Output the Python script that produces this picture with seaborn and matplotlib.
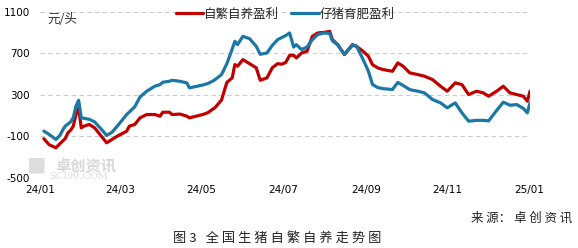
import pandas as pd
import matplotlib
matplotlib.use("Agg")
import matplotlib.pyplot as plt
import matplotlib.dates as mdates
import seaborn as sns

# sample dates
dates = [
    "2024-01-04", "2024-01-08", "2024-01-13", "2024-01-16", "2024-01-18", "2024-01-20",
    "2024-01-22", "2024-01-24", "2024-01-26", "2024-01-28", "2024-01-30", "2024-02-01",
    "2024-02-03", "2024-02-07", "2024-02-11", "2024-02-16", "2024-02-20", "2024-02-24",
    "2024-02-28", "2024-03-06", "2024-03-08", "2024-03-12", "2024-03-16", "2024-03-21",
    "2024-03-27", "2024-03-31", "2024-04-02", "2024-04-07", "2024-04-09", "2024-04-15",
    "2024-04-20", "2024-04-22", "2024-05-02", "2024-05-06", "2024-05-09", "2024-05-11",
    "2024-05-16", "2024-05-20", "2024-05-24", "2024-05-26", "2024-05-28", "2024-06-01",
    "2024-06-06", "2024-06-11", "2024-06-14", "2024-06-19", "2024-06-23", "2024-06-27",
    "2024-06-30", "2024-07-03", "2024-07-06", "2024-07-09", "2024-07-11", "2024-07-15",
    "2024-07-19", "2024-07-23", "2024-07-27", "2024-08-01", "2024-08-05", "2024-08-07",
    "2024-08-11", "2024-08-16", "2024-08-22", "2024-08-25", "2024-08-30", "2024-09-03",
    "2024-09-06", "2024-09-10", "2024-09-14", "2024-09-21", "2024-09-25", "2024-09-29",
    "2024-10-04", "2024-10-10", "2024-10-15", "2024-10-21", "2024-10-27", "2024-11-01",
    "2024-11-07", "2024-11-12", "2024-11-17", "2024-11-23", "2024-11-28", "2024-12-02",
    "2024-12-08", "2024-12-13", "2024-12-18", "2024-12-23", "2024-12-28", "2024-12-31",
    "2025-01-02",
]

# 自繁自养盈利, 元/头
self_breeding = [
    -122, -180, -209, -170, -145, -120, -65, -40, -1, 111, 175, -17,
    -1, 15, -17, -97, -161, -129, -97, -49, -1, 15, 79, 111,
    111, 95, 133, 133, 111, 115, 95, 79, 111, 130, 159, 175,
    250, 420, 463, 591, 575, 639, 600, 560, 440, 463, 560, 600,
    595, 610, 680, 680, 655, 703, 719, 863, 895, 901, 911, 831,
    783, 687, 783, 767, 719, 671, 591, 559, 543, 527, 607, 575,
    511, 495, 479, 447, 383, 335, 415, 399, 303, 335, 319, 287,
    335, 383, 319, 303, 287, 239, 335,
]

# 仔猪育肥盈利, 元/头
piglet_fattening = [
    -49, -81, -129, -90, -40, 0, 20, 40, 80, 191, 248, 79,
    75, 65, 40, -30, -90, -60, 0, 111, 135, 185, 280, 335,
    383, 399, 421, 431, 440, 430, 415, 367, 395, 410, 430, 445,
    495, 600, 740, 815, 783, 863, 840, 767, 690, 703, 775, 831,
    850, 870, 895, 760, 783, 735, 760, 831, 880, 895, 890, 820,
    780, 690, 775, 770, 640, 527, 400, 370, 360, 351, 420, 390,
    350, 335, 319, 255, 223, 175, 223, 127, 47, 55, 55, 50,
    150, 230, 200, 207, 170, 127, 223,
]

series_names = ["自繁自养盈利", "仔猪育肥盈利"]
colors = ["#C00000", "#1B78A6"]

df = pd.DataFrame({
    "date": pd.to_datetime(dates * 2),
    "value": self_breeding + piglet_fattening,
    "series": [series_names[0]] * len(dates) + [series_names[1]] * len(dates),
})

sns.set_theme(style="white")
plt.rcParams["font.family"] = ["Noto Sans CJK SC", "DejaVu Sans"]
plt.rcParams["axes.unicode_minus"] = False

fig = plt.figure(figsize=(5.78, 2.48), dpi=100)
ax = fig.add_axes([0.069, 0.282, 0.848, 0.671])

sns.lineplot(data=df, x="date", y="value", hue="series", hue_order=series_names,
             palette=colors, linewidth=2.3, ax=ax, legend=False)

ax.set_ylim(-500, 1100)
ax.set_yticks([-500, -100, 300, 700, 1100])
ax.set_xlim(pd.Timestamp("2024-01-01"), pd.Timestamp("2025-01-02"))
ax.xaxis.set_major_locator(mdates.MonthLocator(bymonth=[1, 3, 5, 7, 9, 11]))
ax.xaxis.set_major_formatter(mdates.DateFormatter("%y/%m"))
ax.grid(axis="y", color="#CCCCCC", linestyle=(0, (4, 3)), linewidth=0.8)
ax.grid(axis="x", visible=False)
for s in ax.spines.values():
    s.set_visible(False)
ax.tick_params(axis="both", length=0, labelsize=7.5, colors="#000000")
ax.tick_params(axis="y", pad=7)
ax.tick_params(axis="x", pad=5)
for lbl in ax.get_xticklabels() + ax.get_yticklabels():
    lbl.set_family("DejaVu Sans")
ax.set_xlabel("")
ax.set_ylabel("")

# legend
handles = [plt.Line2D([], [], color=c, linewidth=2.3) for c in colors]
ax.legend(handles, series_names, loc="center", bbox_to_anchor=(0.5, 0.985),
          ncol=2, frameon=False, fontsize=9, handlelength=2.2,
          handletextpad=0.05, columnspacing=1.0, borderaxespad=0)

ax.text(0.015, 0.955, "元/头", transform=ax.transAxes, fontsize=9,
        ha="left", va="center", color="#333333")

# watermark
fig.text(0.045, 0.325, "■", fontsize=14, color="#DDDDDD", ha="left", va="center")
fig.text(0.095, 0.335, "卓创资讯", fontsize=11, color="#D8D8D8", ha="left",
         va="center", fontweight="bold")
fig.text(0.085, 0.29, "SCI99.COM", fontsize=7, color="#DDDDDD", ha="left",
         va="center", family="DejaVu Serif")

fig.text(0.99, 0.12, "来 源： 卓 创 资 讯", fontsize=9, ha="right", va="center",
         color="#222222")
fig.text(0.48, 0.04, "图 3   全 国 生 猪 自 繁 自 养 走 势 图", fontsize=9.5,
         ha="center", va="center", color="#222222")

fig.savefig("out.png", dpi=100)
